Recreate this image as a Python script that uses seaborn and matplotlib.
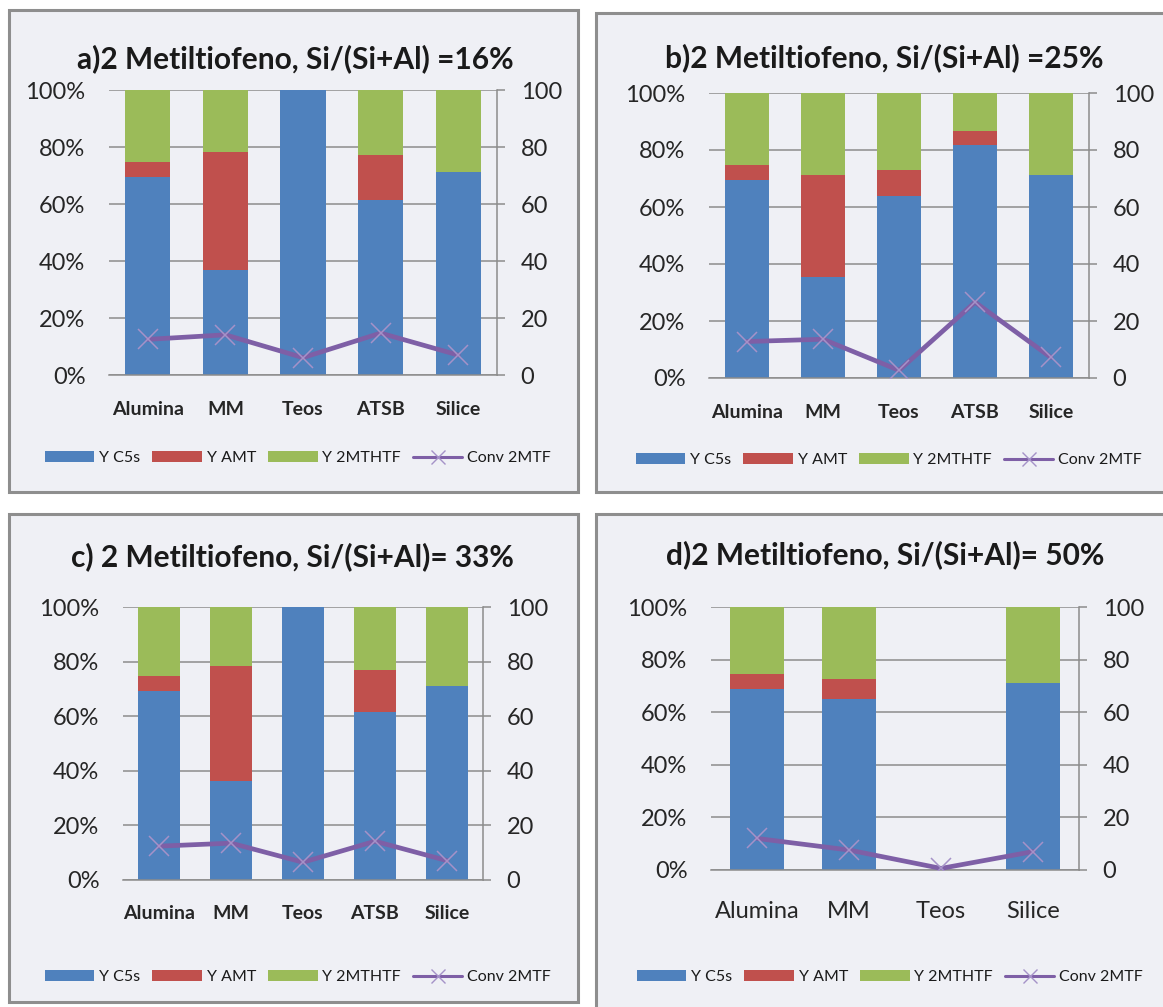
import numpy as np
import matplotlib
matplotlib.use("Agg")
import matplotlib.pyplot as plt
from matplotlib.patches import Rectangle, Patch
from matplotlib.lines import Line2D
from matplotlib.ticker import FuncFormatter
import seaborn as sns

# ---- data -------------------------------------------------------------
cats_5 = ["Alumina", "MM", "Teos", "ATSB", "Silice"]
cats_4 = ["Alumina", "MM", "Teos", "Silice"]

# a) Si/(Si+Al) = 16%
a_c5s = [69.4, 36.7, 100.0, 61.4, 71.2]
a_amt = [5.4, 41.6, 0.0, 15.7, 0.0]
a_thf = [25.2, 21.7, 0.0, 22.9, 28.8]
a_conv = [12.5, 14.1, 6.1, 14.7, 7.0]

# b) Si/(Si+Al) = 25%
b_c5s = [69.3, 35.4, 63.8, 81.8, 71.1]
b_amt = [5.6, 35.7, 9.3, 5.0, 0.0]
b_thf = [25.1, 28.9, 26.9, 13.2, 28.9]
b_conv = [12.8, 13.6, 2.7, 26.6, 7.2]

# c) Si/(Si+Al) = 33%
c_c5s = [69.2, 36.2, 100.0, 61.5, 71.1]
c_amt = [5.7, 42.1, 0.0, 15.3, 0.0]
c_thf = [25.1, 21.7, 0.0, 23.2, 28.9]
c_conv = [12.4, 13.5, 6.5, 14.2, 7.1]

# d) Si/(Si+Al) = 50%
d_c5s = [69.0, 65.1, 0.0, 71.1]
d_amt = [5.6, 7.5, 0.0, 0.0]
d_thf = [25.4, 27.4, 0.0, 28.9]
d_conv = [12.0, 7.6, 0.6, 7.0]

titles = [
    "a)2 Metiltiofeno, Si/(Si+Al) =16%",
    "b)2 Metiltiofeno, Si/(Si+Al) =25%",
    "c) 2 Metiltiofeno, Si/(Si+Al)= 33%",
    "d)2 Metiltiofeno, Si/(Si+Al)= 50%",
]
series_labels = ["Y C5s", "Y AMT", "Y 2MTHTF", "Conv 2MTF"]
left_ticks = [0, 20, 40, 60, 80, 100]

# ---- style ------------------------------------------------------------
BLUE, RED, GREEN, PURPLE = "#4F81BD", "#C0504D", "#9BBB59", "#7E5FA6"
GRID = "#8C8C8C"
PANEL_BG = "#EFF0F5"

sns.set_style("white")
plt.rcParams["font.family"] = ["Lato", "DejaVu Sans"]
plt.rcParams["text.color"] = "#1A1A1A"

W, H = 1163, 1007
fig = plt.figure(figsize=(W / 100, H / 100), dpi=100)
fig.patch.set_facecolor("white")


def px_rect(x0, y0, x1, y1):
    """Figure-fraction rectangle from pixel corners (origin top-left)."""
    return [x0 / W, 1 - y1 / H, (x1 - x0) / W, (y1 - y0) / H]


def panel_box(x0, y0, x1, y1):
    l, b, w, h = px_rect(x0, y0, x1, y1)
    fig.add_artist(Rectangle((l, b), w, h, transform=fig.transFigure,
                             facecolor=PANEL_BG, edgecolor="#8E8E8E",
                             lw=2.2, zorder=-5))


def draw_panel(axes_px, cats, c5s, amt, thf, conv, title, title_px,
               legend_px, xfont, xbold, xpad):
    ax = fig.add_axes(px_rect(*axes_px))
    ax.set_facecolor("none")
    n = len(cats)
    c5s = np.asarray(c5s)
    amt = np.asarray(amt)
    thf = np.asarray(thf)
    top_thf = c5s + amt + thf
    top_amt = c5s + amt

    # stacked bars drawn as overlapping cumulative layers
    for heights, col in ((top_thf, GREEN), (top_amt, RED), (c5s, BLUE)):
        sns.barplot(x=cats, y=heights, order=cats, color=col, saturation=1,
                    width=0.58, linewidth=0, ax=ax, zorder=2)

    ax.set_ylim(0, 100)
    ax.set_yticks(left_ticks)
    ax.yaxis.set_major_formatter(FuncFormatter(lambda v, p: f"{v:.0f}%"))
    ax.yaxis.grid(True, color=GRID, lw=1.1)
    ax.set_axisbelow(True)
    for s in ("left", "top", "right"):
        ax.spines[s].set_visible(False)
    ax.spines["bottom"].set_color(GRID)
    ax.spines["bottom"].set_linewidth(1.1)
    ax.tick_params(axis="y", length=0, pad=17, labelsize=17)
    ax.tick_params(axis="x", length=0, pad=xpad, labelsize=xfont)
    for t in ax.get_xticklabels():
        t.set_fontweight("bold" if xbold else "normal")
    ax.set_xlabel("")
    ax.set_ylabel("")

    ax2 = ax.twinx()
    sns.lineplot(x=np.arange(n), y=conv, ax=ax2, color=PURPLE, lw=3.4,
                 marker="x", markersize=15, markeredgewidth=1.1,
                 markeredgecolor="#A592C8", legend=False, zorder=4)
    ax2.set_ylim(0, 100)
    ax2.set_yticks(left_ticks)
    ax2.set_ylabel("")
    for s in ("left", "top", "bottom"):
        ax2.spines[s].set_visible(False)
    ax2.spines["right"].set_color(GRID)
    ax2.spines["right"].set_linewidth(1.1)
    ax2.tick_params(axis="y", direction="out", length=6, width=1.1,
                    color=GRID, pad=11, labelsize=17)
    ax.set_xlim(-0.5, n - 0.5)

    fig.text(title_px[0] / W, 1 - title_px[1] / H, title, ha="center",
             va="center", fontsize=21.5, fontweight="bold")

    handles = [Patch(facecolor=BLUE, edgecolor="none"),
               Patch(facecolor=RED, edgecolor="none"),
               Patch(facecolor=GREEN, edgecolor="none"),
               Line2D([], [], color=PURPLE, lw=2.2, marker="x",
                      markersize=10, markeredgewidth=1,
                      markeredgecolor="#A592C8")]
    fig.legend(handles, series_labels, loc="center",
               bbox_to_anchor=(legend_px[0] / W, 1 - legend_px[1] / H),
               ncol=4, frameon=False, fontsize=11.5, handlelength=3.1,
               handleheight=0.66, handletextpad=0.3, columnspacing=0.75,
               borderaxespad=0)


# panel frames
panel_box(9, 10, 578, 492)
panel_box(596, 13, 1175, 492)
panel_box(9, 514, 578, 1002)
panel_box(596, 514, 1175, 1020)

draw_panel((109, 90, 497, 375), cats_5, a_c5s, a_amt, a_thf, a_conv,
           titles[0], (295, 59), (298, 458), 14, True, 19)
draw_panel((709, 93, 1089, 378), cats_5, b_c5s, b_amt, b_thf, b_conv,
           titles[1], (884, 58), (889, 460), 14, True, 19)
draw_panel((123, 607, 483, 880), cats_5, c_c5s, c_amt, c_thf, c_conv,
           titles[2], (292, 557), (298, 977), 14, True, 18)
draw_panel((711, 607, 1079, 870), cats_4, d_c5s, d_amt, d_thf, d_conv,
           titles[3], (885, 555), (890, 977), 17, False, 22)

fig.savefig("out.png", dpi=100, facecolor="white")
